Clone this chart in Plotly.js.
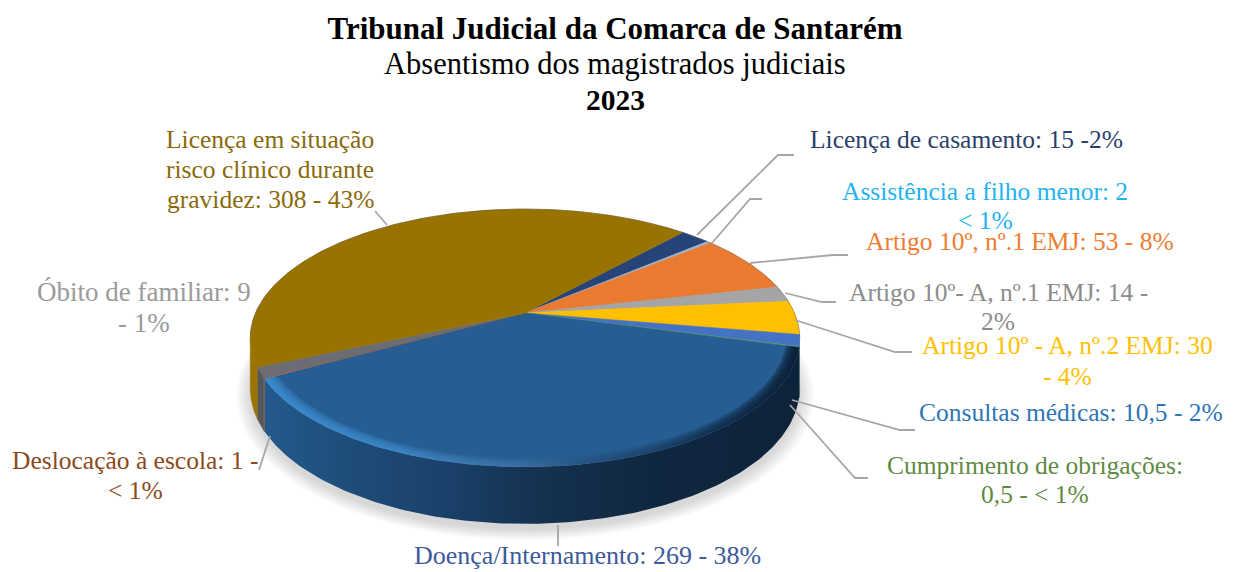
<!DOCTYPE html>
<html><head><meta charset="utf-8">
<script src="https://cdn.plot.ly/plotly-3.0.1.min.js"></script>
<style>html,body{margin:0;padding:0;background:#fff}#chart{width:1237px;height:572px}</style>
</head><body><div id="chart"></div>
<script>
// ---- data ----
const categories = ["Licença de casamento","Assistência a filho menor","Artigo 10º, nº.1 EMJ","Artigo 10º- A, nº.1 EMJ","Artigo 10º - A, nº.2 EMJ","Consultas médicas","Cumprimento de obrigações","Doença/Internamento","Deslocação à escola","Óbito de familiar","Licença em situação risco clínico durante gravidez"];
const values = [15,2,53,14,30,10.5,0.5,269,1,9,308];
const labelLines = [
 ["Licença de casamento: 15 -2%"],
 ["Assistência a filho menor: 2","&lt; 1%"],
 ["Artigo 10º, nº.1 EMJ: 53 - 8%"],
 ["Artigo 10º- A, nº.1 EMJ: 14 -","2%"],
 ["Artigo 10º - A, nº.2 EMJ: 30","- 4%"],
 ["Consultas médicas: 10,5 - 2%"],
 ["Cumprimento de obrigações:","0,5 - &lt; 1%"],
 ["Doença/Internamento: 269 - 38%"],
 ["Deslocação à escola: 1 -","&lt; 1%"],
 ["Óbito de familiar: 9","- 1%"],
 ["Licença em situação","risco clínico durante","gravidez: 308 - 43%"]];
const titleMain = "Tribunal Judicial da Comarca de Santarém";
const titleSub = "Absentismo dos magistrados judiciais";
const titleYear = "2023";
// ---- style ----
const sliceColors = ["#264478","#9db4cf","#e97a30","#a5a5a5","#ffc000","#4472c4","#70ad47","#265d92","#9e480e","#6c6c74","#997300"];
const wallColors  = ["#1a3054","#6f8299","#a85820","#757575","#b08800","#2f5089","#4f7a32","#163a5e","#6e3a16","#55555c","#9a7400"];
const labelColors = ["#2b3f6b","#1fb4f0","#ed7d31","#8c8c8c","#ffc000","#2e75b6","#5f8a3f","#3d5a9a","#8a4a20","#9a9a9a","#8a6a0a"];
const labelX = [966,985,1020,998,1067,1071,1035,587,135,144,270];
const labelLineY = [[139],[191,220],[241],[292,321],[345,376],[412],[465,494],[555],[460,490],[292,323],[139,169,199]];
const labelSizes = [25.5,25.5,25.5,25.5,25.5,25.5,25.5,26,25.5,27,25.5];
const leaders = [
 [[697,235],[778,155],[794,155]],
 [[712,243],[750,199],[762,199]],
 [[750,263],[833,255],[848,255]],
 [[785,293],[822,302],[836,302]],
 [[795,320],[895,352],[912,352]],
 [[792,400],[900,430],[915,430]],
 [[790,405],[855,478],[868,478]],
 [[558,525],[558,546]],
 [[270,436],[259,470]],
 [[375,211],[387,225]]];
const FONT = '"Liberation Serif","Times New Roman",serif';
// ---- projection ----
const cx=525, y0=313, R=269.5, S=124.1, A=0.1937, START=42, DEPTH=57;
function P(deg,s,dy){const t=deg*Math.PI/180,u=s*Math.sin(t),v=s*Math.cos(t),w=1+A*v;return [cx+R*u/w,y0-S*v/w+(dy||0)*Math.pow(0.806/w,0.7)];}
function arc(a,b,s,dy){const n=Math.max(2,Math.ceil(Math.abs(b-a)));const o=[];for(let i=0;i<=n;i++)o.push(P(a+(b-a)*i/n,s,dy));return o;}
function poly(pts,fill,extra){return Object.assign({type:'scatter',mode:'lines',x:pts.map(p=>p[0]),y:pts.map(p=>p[1]),fill:'toself',fillcolor:fill,line:{width:0.6,color:fill},hoverinfo:'skip',showlegend:false},extra||{});}
const total=values.reduce((a,b)=>a+b,0);
let acc=START; const spans=values.map(v=>{const a=acc;acc+=v/total*360;return [a,acc];});
const traces=[];
// shadow
[1.05,1.043,1.036,1.029,1.022,1.015,1.008,1.0].forEach(s=>{traces.push(poly(arc(0,360,s,DEPTH+6),'rgba(60,60,60,0.022)',{line:{width:0}}));});
// side walls, only front part is visible
const FR=101.2, FL=258.8;
const wallScale=[[0,'#235a8c'],[0.16,'#1e4c78'],[0.35,'#1a4069'],[0.5,'#153251'],[0.72,'#102741'],[1,'#0e2339']];
spans.forEach((sp,i)=>{
  const a=Math.max(sp[0],FR), b=Math.min(sp[1],FL); if(b<=a) return;
  const top=arc(a,b,1,0), bot=arc(b,a,1,DEPTH);
  const extra = categories[i]==="Doença/Internamento" ? {fillgradient:{type:'horizontal',colorscale:wallScale},line:{width:0}} : {};
  traces.push(poly(top.concat(bot),wallColors[i],extra));
});
// top surface
spans.forEach((sp,i)=>{
  const pts=[P(0,0)].concat(arc(sp[0],sp[1],1,0)); pts.push(P(0,0));
  traces.push(Object.assign(poly(pts,sliceColors[i]),{name:categories[i],hoverinfo:'text',text:labelLines[i].join(' ')}));
});
// soft bevel on the front rim of the biggest slice
const big=spans[categories.indexOf("Doença/Internamento")];
const bevel=[[0,'rgba(62,145,215,0.34)'],[0.25,'rgba(62,140,205,0.3)'],[0.48,'rgba(70,120,170,0.2)'],[0.62,'rgba(30,70,110,0.15)'],[0.82,'rgba(12,40,68,0.28)'],[1,'rgba(10,30,52,0.5)']];
[0.955,0.965,0.975,0.985,0.993].forEach(s=>{
  traces.push(poly(arc(big[0],big[1],1,0).concat(arc(big[1],big[0],s,0)),'rgba(0,0,0,0)',{fillgradient:{type:'horizontal',colorscale:bevel},line:{width:0}}));
});
// back edge
const edge=arc(FL,FR+360,1,0);
traces.push({type:'scatter',mode:'lines',x:edge.map(p=>p[0]),y:edge.map(p=>p[1]),line:{width:1,color:'rgba(80,80,80,0.4)'},hoverinfo:'skip',showlegend:false});

const annotations=[];
labelLines.forEach((lines,i)=>lines.forEach((t,j)=>annotations.push({xref:'x',yref:'y',x:labelX[i],y:labelLineY[i][j],text:t,showarrow:false,xanchor:'center',yanchor:'middle',align:'center',font:{family:FONT,size:labelSizes[i],color:labelColors[i]}})));
annotations.push({xref:'x',yref:'y',x:615,y:64,text:titleSub,showarrow:false,xanchor:'center',yanchor:'middle',font:{family:FONT,size:30.5,color:'#000'}});
annotations.push({xref:'x',yref:'y',x:615,y:100,text:'<b>'+titleYear+'</b>',showarrow:false,xanchor:'center',yanchor:'middle',font:{family:FONT,size:29.5,color:'#000'}});
const shapes=leaders.map(l=>({type:'path',xref:'x',yref:'y',path:'M'+l.map(p=>p.join(' ')).join('L'),line:{color:'#a6a6a6',width:1.8}}));
const layout={width:1237,height:572,margin:{l:0,r:0,t:0,b:0},paper_bgcolor:'#fff',plot_bgcolor:'#fff',showlegend:false,
 title:{text:'<b>'+titleMain+'</b>',x:615/1237,xanchor:'center',y:1-28/572,yanchor:'middle',font:{family:FONT,size:31,color:'#000'}},
 xaxis:{range:[0,1237],visible:false,fixedrange:true},yaxis:{range:[572,0],visible:false,fixedrange:true},
 annotations,shapes};
Plotly.newPlot('chart',traces,layout,{displayModeBar:false});
</script></body></html>
